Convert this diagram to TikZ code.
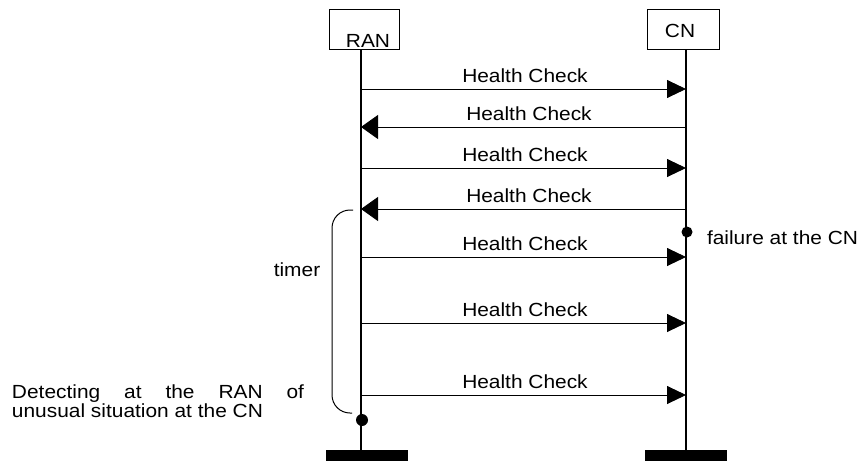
\documentclass[tikz,border=0pt]{standalone}
\usepackage{fontspec}
\setmainfont{Liberation Sans}[FakeStretch=1.1]
\usetikzlibrary{arrows.meta}
\begin{document}
\begin{tikzpicture}[x=1pt,y=-1pt,
  every node/.style={inner sep=0pt,outer sep=0pt,font=\fontsize{19}{19}\selectfont},
  entity/.style={draw,line width=0.8pt,minimum width=70pt,minimum height=40pt},
  lifeline/.style={line width=1.3pt},
  bar/.style={fill=black},
  msgr/.style={line width=0.9pt,-{Triangle[length=19pt,width=18pt]}},
  msgl/.style={line width=0.9pt,-{Triangle[length=17pt,width=24pt]}},
  lbl/.style={anchor=base},
  dot/.style={circle,fill=black,minimum size=11pt}]
\useasboundingbox (0,0) rectangle (863,461);
% entities
\node[entity] (ranbox) at (364,29.5) {};
\node[entity,minimum width=72pt] (cnbox) at (683,29) {};
\node[anchor=base] (rantxt) at (368,47) {RAN};
\node[anchor=base] (cntxt) at (680,37) {CN};
% bars
\node[bar,minimum width=82pt,minimum height=11pt] (ranbar) at (367,455.5) {};
\node[bar,minimum width=82pt,minimum height=11pt] (cnbar) at (686,455.5) {};
% lifelines
\coordinate (rtop) at (361,50);
\coordinate (rbot) at (361,450);
\coordinate (ctop) at (686,49);
\coordinate (cbot) at (686,450);
\draw[lifeline] (rtop) -- (rbot);
\draw[lifeline] (ctop) -- (cbot);
% message coordinates
\foreach \i/\y in {1/89,2/127,3/168,4/209,5/257,6/323,7/395}{
  \coordinate (r\i) at (361,\y);
  \coordinate (c\i) at (686,\y);
}
\draw[msgr] (r1) -- (c1);
\draw[msgl] (c2) -- (r2);
\draw[msgr] (r3) -- (c3);
\draw[msgl] (c4) -- (r4);
\draw[msgr] (r5) -- (c5);
\draw[msgr] (r6) -- (c6);
\draw[msgr] (r7) -- (c7);
\node[lbl] (l1) at (525,82) {Health Check};
\node[lbl] (l2) at (529,120) {Health Check};
\node[lbl] (l3) at (525,161) {Health Check};
\node[lbl] (l4) at (529,202) {Health Check};
\node[lbl] (l5) at (525,250) {Health Check};
\node[lbl] (l6) at (525,316) {Health Check};
\node[lbl] (l7) at (525,388) {Health Check};
% failure
\node[dot] (cdot) at (687,232) {};
\node[anchor=base west] (fail) at (707,244) {failure at the CN};
% timer bracket
\draw[line width=1pt,rounded corners=18pt] (353,210) -- (332,210) -- (332,413) -- (352,413);
\node[anchor=base] (timer) at (297,276) {timer};
% detection
\node[dot,minimum size=12pt] (rdot) at (362,420) {};
\node[anchor=base west] (det1) at (12,398) {\makebox[292pt][s]{Detecting at the RAN of}};
\node[anchor=base west] (det2) at (12,417) {unusual situation at the CN};
\end{tikzpicture}
\end{document}
